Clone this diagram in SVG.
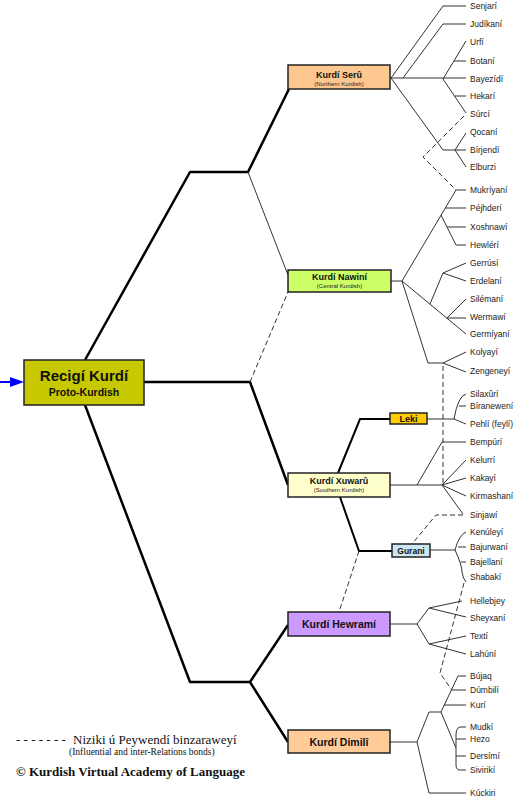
<svg xmlns="http://www.w3.org/2000/svg" width="518" height="800" viewBox="0 0 518 800">
<style>
.box{stroke:#222;stroke-width:1.5}
.t{font-family:"Liberation Sans",Arial,sans-serif;font-weight:bold;fill:#111;text-anchor:middle}
.s{font-family:"Liberation Sans",Arial,sans-serif;fill:#222;text-anchor:middle;font-size:6px}
.lf{font-family:"Liberation Sans",Arial,sans-serif;font-size:8.5px;fill:#222}
.main{fill:none;stroke:#000;stroke-width:2.5;stroke-linejoin:round}
.mid{fill:none;stroke:#000;stroke-width:2}
.thin{fill:none;stroke:#333;stroke-width:1}
.dash{fill:none;stroke:#333;stroke-width:1;stroke-dasharray:5,3}
.lg{font-family:"Liberation Serif","Times New Roman",serif;fill:#111}
</style>
<rect width="518" height="800" fill="#fff"/>
<g id="connectors">
<path class="main" d="M85,360 L190,172 H248 L289,89"/>
<path class="thin" d="M248,172 L288,275" stroke="#000"/>
<path class="main" d="M144,382 H250 L288,485"/>
<path class="dash" d="M250,382 L288,292"/>
<path class="main" d="M85,405 L190,682 H250 L288,625 M250,682 L288,742"/>
<path class="mid" d="M338,473 L360,419 H390 M340,497 L359,551 H392"/>
<path class="dash" d="M359,551 L339,612"/>
<g id="arrow"><path d="M0,382 H12" stroke="#0000ff" stroke-width="2"/><path d="M10,377 L24,382 L10,387 Z" fill="#0000ff"/></g>
<!-- Seru -->
<path class="thin" d="M390,78 H466 M391,78 L443,6 H466 M403,78 L443,24 H466 M443,79 L466,41 M454,61 H466 M443,79 L466,113 M454.5,96 H466 M391,78 L443,150 H466 M455,150 L466,133 M455,150 L466,167"/>
<!-- Nawini -->
<path class="thin" d="M391,281 H402 M402,281 L456,190 H466 M445,208 H466 M441,215 L456,245 H466 M447,227 H466 M402,281 L466,334 M430,304 L443,273 M443,273 L466,263 M443,273 L466,281 M447,318 H466 M447,318 L466,299 M402,281 L428,363 H443 M443,363 L466,352 M443,363 L466,372"/>
<!-- Leki -->
<path class="thin" d="M427,419 H454 M454,419 Q458,396 466,394 M459,406 H466 M454,419 L466,424"/>
<!-- Xuwaru -->
<path class="thin" d="M390,485 H442 M417,485 L442,442 H466 M442,485 L466,460 M442,485 L466,478 M442,485 L466,496 M442,485 L463,514"/>
<!-- Gurani -->
<path class="thin" d="M430,550 H455 M466,532 Q459,535 455,550 Q462,565 462,572 Q463,579 466,582 M458,547 H466 M461,562 H466"/>
<!-- Hewrami -->
<path class="thin" d="M390,624 H417 M417,624 L429,608 M417,624 L429,644 M429,608 L462,601 M429,608 L466,617 M429,644 L466,636 M429,644 L466,654"/>
<!-- Dimili -->
<path class="thin" d="M390,742 H417 M417,742 L429,712 H441 M441,712 L458,676 H466 M451,690 H466 M444,705 H466 M441,712 L456,748 M466,727 H460 Q456,728 456,735 V765 Q456,770 460,770 H466 M456,739 H466 M456,756 H466 M417,742 L429,793 H466"/>
<!-- dashed relations -->
<path class="dash" d="M464,116 L423,157 L456,190"/>
<path class="dash" d="M443,366 V485"/>
<path class="dash" d="M463,515 H436 L412,544"/>
<path class="dash" d="M464,583 L440,673 L451,689"/>
</g>
<g id="node-root"><rect class="box" x="24" y="360" width="120" height="45" fill="#c8c800"/><text class="t" x="84" y="380.5" font-size="15">Recigí Kurdí</text><text class="t" x="84" y="395.5" font-size="10.5">Proto-Kurdish</text></g>
<g id="node-seru"><rect class="box" x="288" y="65" width="102" height="24" fill="#fdc890"/><text class="t" x="339" y="77.5" font-size="9">Kurdí Serû</text><text class="s" x="339" y="86">(Northern Kurdish)</text></g>
<g id="node-nawini"><rect class="box" x="288" y="270" width="103" height="22" fill="#ccff66"/><text class="t" x="339.5" y="279.5" font-size="9">Kurdí Nawiní</text><text class="s" x="339.5" y="287.5">(Central Kurdish)</text></g>
<g id="node-leki"><rect class="box" x="390" y="413" width="37" height="11" fill="#ffcc00"/><text class="t" x="408.5" y="422" font-size="9">Leki</text></g>
<g id="node-xuwaru"><rect class="box" x="288" y="473" width="102" height="24" fill="#ffffcc"/><text class="t" x="339" y="483.5" font-size="9">Kurdí Xuwarû</text><text class="s" x="339" y="492">(Southern Kurdish)</text></g>
<g id="node-gurani"><rect class="box" x="392" y="544" width="38" height="13" fill="#cce6f2"/><text class="t" x="411" y="553.5" font-size="8.5">Gurani</text></g>
<g id="node-hewrami"><rect class="box" x="288" y="612" width="102" height="24" fill="#cc99ff"/><text class="t" x="339" y="628" font-size="10.5">Kurdí Hewramí</text></g>
<g id="node-dimili"><rect class="box" x="288" y="730" width="102" height="23" fill="#ffcc99"/><text class="t" x="339" y="745.5" font-size="10.5">Kurdí Dimilî</text></g>
<g id="leaves" class="lf">
<g id="l-senjari"><text class="lf" x="470" y="9">Senjarí</text></g>
<g id="l-judikani"><text class="lf" x="470" y="27">Judíkaní</text></g>
<g id="l-urfi"><text class="lf" x="470" y="45">Urfí</text></g>
<g id="l-botani"><text class="lf" x="470" y="64">Botaní</text></g>
<g id="l-bayezidi"><text class="lf" x="470" y="82">Bayezídí</text></g>
<g id="l-hekari"><text class="lf" x="470" y="99">Hekarí</text></g>
<g id="l-surci"><text class="lf" x="470" y="117">Súrcí</text></g>
<g id="l-qocani"><text class="lf" x="470" y="135">Qocaní</text></g>
<g id="l-birjendi"><text class="lf" x="470" y="153">Bírjendí</text></g>
<g id="l-elburzi"><text class="lf" x="470" y="170">Elburzi</text></g>
<g id="l-mukriyani"><text class="lf" x="470" y="193">Mukríyaní</text></g>
<g id="l-pejhderi"><text class="lf" x="470" y="211">Péjhderí</text></g>
<g id="l-xoshnawi"><text class="lf" x="470" y="230">Xoshnawí</text></g>
<g id="l-hewleri"><text class="lf" x="470" y="248">Hewlérí</text></g>
<g id="l-gerrusi"><text class="lf" x="470" y="266">Gerrúsí</text></g>
<g id="l-erdelani"><text class="lf" x="470" y="284">Erdelaní</text></g>
<g id="l-silemani"><text class="lf" x="470" y="302">Silémaní</text></g>
<g id="l-wermawi"><text class="lf" x="470" y="320">Wermawí</text></g>
<g id="l-germiyani"><text class="lf" x="470" y="337">Germíyaní</text></g>
<g id="l-kolyayi"><text class="lf" x="470" y="355">Kolyayí</text></g>
<g id="l-zengeneyi"><text class="lf" x="470" y="374">Zengeneyí</text></g>
<g id="l-silaxuri"><text class="lf" x="470" y="397">Silaxûrí</text></g>
<g id="l-biranewani"><text class="lf" x="470" y="409">Bíranewení</text></g>
<g id="l-pehli"><text class="lf" x="470" y="427">Pehlí (feylí)</text></g>
<g id="l-bempuri"><text class="lf" x="470" y="445">Bempúrí</text></g>
<g id="l-kelurri"><text class="lf" x="470" y="463">Kelurrí</text></g>
<g id="l-kakayi"><text class="lf" x="470" y="481">Kakayí</text></g>
<g id="l-kirmashani"><text class="lf" x="470" y="499">Kirmashaní</text></g>
<g id="l-sinjawi"><text class="lf" x="470" y="518">Sinjawí</text></g>
<g id="l-kenuleyi"><text class="lf" x="470" y="535">Kenúleyí</text></g>
<g id="l-bajurwani"><text class="lf" x="470" y="550">Bajurwaní</text></g>
<g id="l-bajellani"><text class="lf" x="470" y="565">Bajellaní</text></g>
<g id="l-shabaki"><text class="lf" x="470" y="580">Shabakí</text></g>
<g id="l-hellebjey"><text class="lf" x="470" y="604">Hellebjey</text></g>
<g id="l-sheyxani"><text class="lf" x="470" y="621">Sheyxaní</text></g>
<g id="l-texti"><text class="lf" x="470" y="639">Textí</text></g>
<g id="l-lahuni"><text class="lf" x="470" y="657">Lahúní</text></g>
<g id="l-bujaq"><text class="lf" x="470" y="679">Bújaq</text></g>
<g id="l-dumbili"><text class="lf" x="470" y="693">Dúmbilí</text></g>
<g id="l-kuri"><text class="lf" x="470" y="708">Kurí</text></g>
<g id="l-mudki"><text class="lf" x="470" y="730">Mudkí</text></g>
<g id="l-hezo"><text class="lf" x="470" y="742">Hezo</text></g>
<g id="l-dersimi"><text class="lf" x="470" y="759">Dersímí</text></g>
<g id="l-siviriki"><text class="lf" x="470" y="773">Sivirikí</text></g>
<g id="l-kuckiri"><text class="lf" x="470" y="796">Kúckiri</text></g>
</g>
<g id="legend">
<text class="lg" x="16" y="744" font-size="13">- - - - - - -</text>
<text class="lg" x="73" y="744" font-size="13">Niziki ú Peywendí binzaraweyí</text>
<text class="lg" x="69" y="755" font-size="9.5">(Influential and inter-Relations bonds)</text>
<text class="lg" x="16" y="776" font-size="13" font-weight="bold">© Kurdish Virtual Academy of Language</text>
</g>
</svg>
